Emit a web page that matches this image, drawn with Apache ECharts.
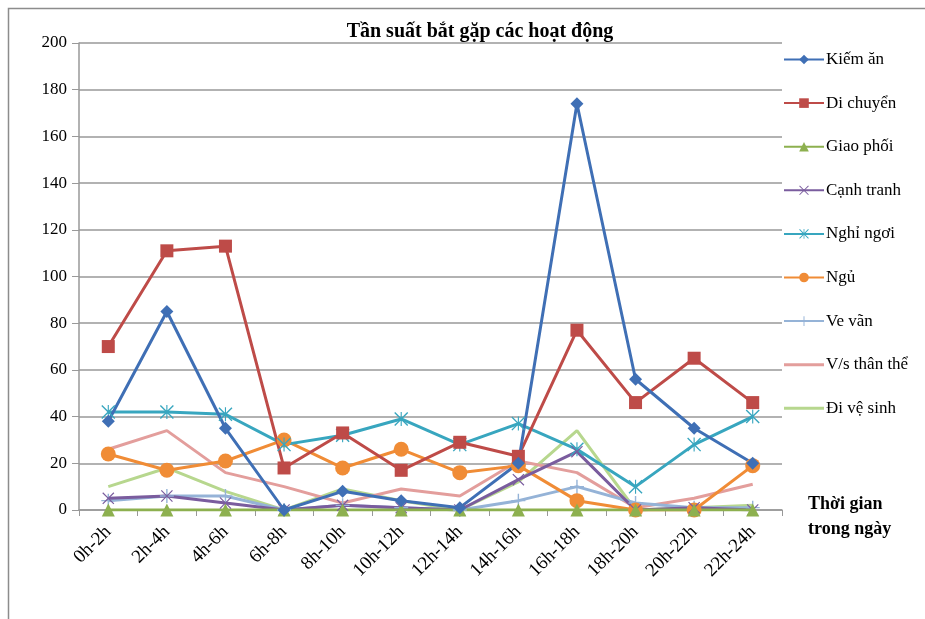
<!DOCTYPE html>
<html><head><meta charset="utf-8">
<script src="https://cdn.jsdelivr.net/npm/echarts@6/dist/echarts.min.js"></script>
<style>html,body{margin:0;padding:0;background:#fff}#c{width:925px;height:619px}</style>
</head><body><div id="c"></div>
<script>
var categories = ['0h-2h','2h-4h','4h-6h','6h-8h','8h-10h','10h-12h','12h-14h','14h-16h','16h-18h','18h-20h','20h-22h','22h-24h'];
var yTicks = [0,20,40,60,80,100,120,140,160,180,200];
var kiemAn    = [38, 85, 35, 0, 8, 4, 1, 20, 174, 56, 35, 20];
var diChuyen  = [70, 111, 113, 18, 33, 17, 29, 23, 77, 46, 65, 46];
var giaoPhoi  = [0, 0, 0, 0, 0, 0, 0, 0, 0, 0, 0, 0];
var canhTranh = [5, 6, 3, 0, 2, 1, 0, 13, 25, 0, 1, 0];
var nghiNgoi  = [42, 42, 41, 28, 32, 39, 28, 37, 26, 10, 28, 40];
var ngu       = [24, 17, 21, 30, 18, 26, 16, 19, 4, 0, 0, 19];
var veVan     = [4, 6, 6, 0, 2, 1, 0, 4, 10, 3, 1, 1];
var vsThanThe = [26, 34, 16, 10, 3, 9, 6, 21, 16, 1, 5, 11];
var diVeSinh  = [10, 18, 8, 0, 9, 4, 0, 12, 34, 0, 1, 2];

var PLUS = 'path://M9,0H11V9H20V11H11V20H9V11H0V9H9Z';
var XS = 'path://M0,1.4L1.4,0L10,8.6L18.6,0L20,1.4L11.4,10L20,18.6L18.6,20L10,11.4L1.4,20L0,18.6L8.6,10Z';
var STAR = 'path://M0,1.4L1.4,0L10,8.6L18.6,0L20,1.4L11.4,10L20,18.6L18.6,20L10,11.4L1.4,20L0,18.6L8.6,10ZM9.2,0H10.8V20H9.2Z';
var LINEICON = 'path://M0,0L0.01,0L0.01,0.01ZM0,4.5H40V7.5H0ZM0,12L0.01,12L0.01,11.99Z';

function mk(name, data, color, symbol, size) {
  return {
    name: name, type: 'line', data: data,
    symbol: symbol, symbolSize: size, showSymbol: symbol !== 'none',
    lineStyle: { width: 3, color: color },
    itemStyle: { color: color },
    emphasis: { disabled: true },
    animation: false
  };
}
var serif = 'Liberation Serif, Times New Roman, serif';
var names = ['Kiếm ăn','Di chuyển','Giao phối','Cạnh tranh','Nghỉ ngơi','Ngủ','Ve vãn','V/s thân thể','Đi vệ sinh'];
var legendData = names.map(function (n, i) { return i >= 7 ? { name: n, icon: LINEICON } : { name: n }; });
var chart = echarts.init(document.getElementById('c'));
chart.setOption({
  animation: false,
  title: { text: 'Tần suất bắt gặp các hoạt động', left: 475, top: 17, textAlign: 'center',
    textStyle: { fontFamily: serif, fontSize: 20, fontWeight: 'bold', color: '#000' } },
  graphic: [{ type: 'rect', shape: { x: 8.5, y: 8.5, width: 940, height: 640 },
    style: { fill: 'none', stroke: '#8c8c8c', lineWidth: 1.5 }, silent: true },
    { type: 'text', left: 808, top: 492, style: { text: 'Thời gian\ntrong ngày', font: 'bold 18px ' + serif, fill: '#000', lineHeight: 25 } }],
  legend: {
    orient: 'vertical', left: 783, top: 51, padding: 0, itemWidth: 40, itemHeight: 12, itemGap: 26.6,
    textStyle: { fontFamily: serif, fontSize: 17, color: '#000', padding: [0,0,0,-3] },
    data: legendData
  },
  grid: { left: 79, right: 143, top: 43, bottom: 109 },
  xAxis: {
    type: 'category', data: categories, boundaryGap: true,
    axisLine: { lineStyle: { color: '#999', width: 1.5 } },
    axisTick: { show: true, length: 6, lineStyle: { color: '#999' } },
    axisLabel: { rotate: 45, fontFamily: serif, fontSize: 19, color: '#000', margin: 19 }
  },
  yAxis: {
    type: 'value', min: 0, max: 200, interval: 20,
    axisLine: { show: true, lineStyle: { color: '#999', width: 1.5 } },
    axisTick: { show: true, length: 7, lineStyle: { color: '#999' } },
    splitLine: { lineStyle: { color: '#999', width: 1.5 } },
    axisLabel: { fontFamily: serif, fontSize: 17, color: '#000', margin: 12,
      formatter: function (v) { return yTicks.indexOf(v) >= 0 ? String(v) : ''; } }
  },
  series: [
    mk('Kiếm ăn', kiemAn, '#3f6fb5', 'diamond', 13),
    mk('Di chuyển', diChuyen, '#be4b48', 'rect', 13),
    mk('Giao phối', giaoPhoi, '#8db04f', 'triangle', 13),
    mk('Cạnh tranh', canhTranh, '#7a5c9e', XS, 12),
    mk('Nghỉ ngơi', nghiNgoi, '#38a6bf', STAR, 14),
    mk('Ngủ', ngu, '#f08c36', 'circle', 15),
    mk('Ve vãn', veVan, '#95b3d7', PLUS, 14),
    mk('V/s thân thể', vsThanThe, '#e39e9c', 'none', 0),
    mk('Đi vệ sinh', diVeSinh, '#b7d78e', 'none', 0)
  ].reverse()
});
</script></body></html>
